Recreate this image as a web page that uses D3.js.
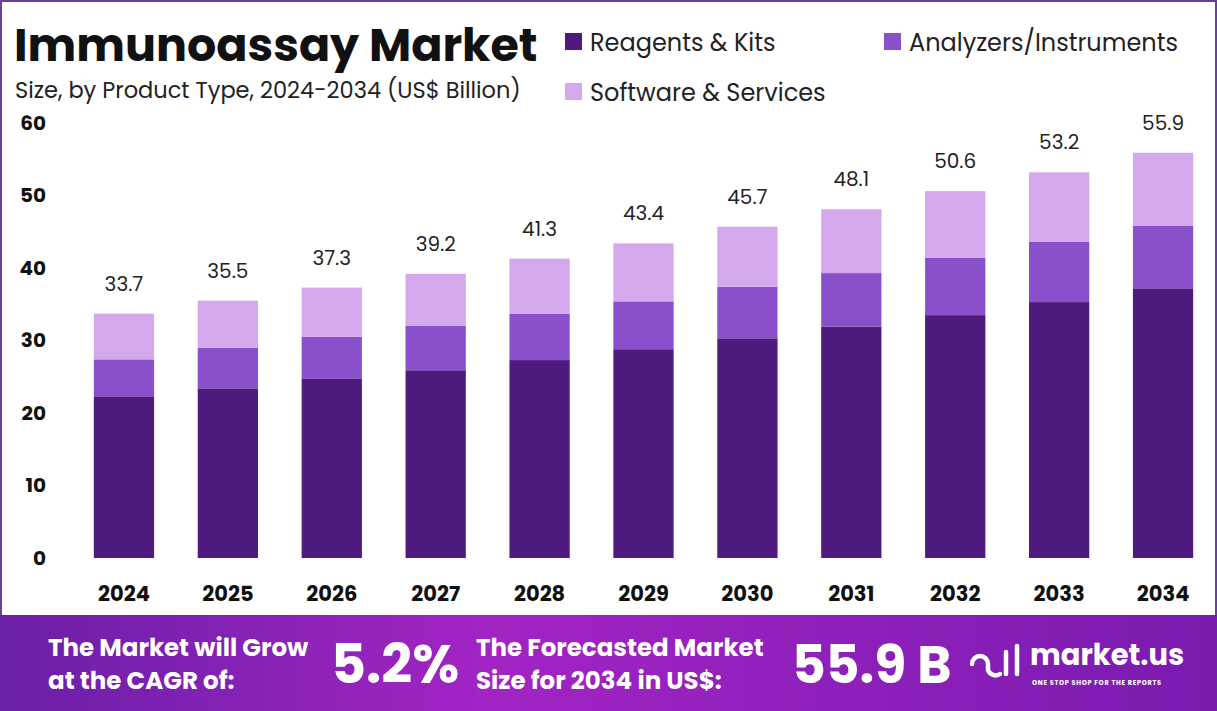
<!DOCTYPE html>
<html>
<head>
<meta charset="utf-8">
<script src="https://cdn.jsdelivr.net/npm/d3@7"></script>
<style>
  body { margin: 0; background: #fff; }
  svg { display: block; font-family: Poppins, "Open Sans", "Noto Sans", sans-serif; }
</style>
</head>
<body>
<div id="chart"></div>
<script>
const width = 1217;
const height = 711;

const data = [
  { year: '2024', reagents: 22.3, analyzers: 5.1, software: 6.3, total: 33.7 },
  { year: '2025', reagents: 23.4, analyzers: 5.6, software: 6.5, total: 35.5 },
  { year: '2026', reagents: 24.7, analyzers: 5.8, software: 6.8, total: 37.3 },
  { year: '2027', reagents: 25.9, analyzers: 6.1, software: 7.2, total: 39.2 },
  { year: '2028', reagents: 27.3, analyzers: 6.4, software: 7.6, total: 41.3 },
  { year: '2029', reagents: 28.8, analyzers: 6.6, software: 8.0, total: 43.4 },
  { year: '2030', reagents: 30.3, analyzers: 7.1, software: 8.3, total: 45.7 },
  { year: '2031', reagents: 31.9, analyzers: 7.4, software: 8.8, total: 48.1 },
  { year: '2032', reagents: 33.5, analyzers: 7.9, software: 9.2, total: 50.6 },
  { year: '2033', reagents: 35.3, analyzers: 8.3, software: 9.6, total: 53.2 },
  { year: '2034', reagents: 37.2, analyzers: 8.6, software: 10.1, total: 55.9 }
];

const keys = ['reagents', 'analyzers', 'software'];
const colors = { reagents: '#4f1a7e', analyzers: '#8a50cc', software: '#d3a9ec' };
const labels = { reagents: 'Reagents & Kits', analyzers: 'Analyzers/Instruments', software: 'Software & Services' };

const svg = d3.select('#chart').append('svg')
  .attr('width', width)
  .attr('height', height);

// frame
svg.append('rect')
  .attr('x', 1).attr('y', 1)
  .attr('width', width - 2).attr('height', height - 2)
  .attr('fill', '#fff').attr('stroke', '#6b3f98').attr('stroke-width', 2);

// banner
const grad = svg.append('defs').append('linearGradient').attr('id', 'bg');
grad.append('stop').attr('offset', '0%').attr('stop-color', '#6a1fa8');
grad.append('stop').attr('offset', '40%').attr('stop-color', '#a224c4');
grad.append('stop').attr('offset', '100%').attr('stop-color', '#7a1bb0');
svg.append('rect').attr('x', 0).attr('y', 615).attr('width', width).attr('height', 96).attr('fill', 'url(#bg)');

// titles
svg.append('text').attr('x', 14).attr('y', 61)
  .attr('font-size', 46).attr('font-weight', 700).attr('fill', '#111')
  .text('Immunoassay Market');
svg.append('text').attr('x', 15).attr('y', 98)
  .attr('font-size', 22.5).attr('fill', '#222')
  .text('Size, by Product Type, 2024-2034 (US$ Billion)');

// legend
const legendPos = [
  { key: 'reagents', x: 565, y: 43 },
  { key: 'analyzers', x: 884, y: 43 },
  { key: 'software', x: 565, y: 93 }
];
legendPos.forEach(function(l) {
  svg.append('rect').attr('x', l.x).attr('y', l.y - 10).attr('width', 17).attr('height', 17).attr('fill', colors[l.key]);
  svg.append('text').attr('x', l.x + 25).attr('y', l.y + 8).attr('font-size', 24).attr('fill', '#222').text(labels[l.key]);
});

// scales
const x = d3.scaleBand().domain(data.map(d => d.year)).range([72, 1215]).paddingInner(0.42).paddingOuter(0.21);
const y = d3.scaleLinear().domain([0, 60]).range([558, 123]);

const stack = d3.stack().keys(keys)(data);

svg.append('g')
  .selectAll('g')
  .data(stack)
  .enter()
  .append('g')
  .attr('fill', d => colors[d.key])
  .selectAll('rect')
  .data(d => d)
  .enter()
  .append('rect')
  .attr('x', d => x(d.data.year))
  .attr('y', d => y(d[1]))
  .attr('width', x.bandwidth())
  .attr('height', d => y(d[0]) - y(d[1]));

// total labels
svg.append('g').selectAll('text')
  .data(data).enter().append('text')
  .attr('x', d => x(d.year) + x.bandwidth() / 2)
  .attr('y', d => y(d.total) - 23)
  .attr('text-anchor', 'middle').attr('font-size', 20).attr('fill', '#222')
  .text(d => d.total.toFixed(1));

// y axis
const yAxis = svg.append('g').attr('transform', 'translate(46,0)')
  .call(d3.axisLeft(y).tickValues([0, 10, 20, 30, 40, 50, 60]).tickSize(0).tickPadding(0));
yAxis.select('.domain').remove();
yAxis.selectAll('text').attr('font-size', 20).attr('font-weight', 700).attr('fill', '#111')
  .attr('font-family', 'Poppins, "Open Sans", sans-serif');

// x axis
const xAxis = svg.append('g').attr('transform', 'translate(0,558)')
  .call(d3.axisBottom(x).tickSize(0).tickPadding(28));
xAxis.select('.domain').remove();
xAxis.selectAll('text').attr('font-size', 21).attr('font-weight', 700).attr('fill', '#111')
  .attr('font-family', 'Poppins, "Open Sans", sans-serif');

// banner text
const bw = svg.append('g').attr('fill', '#fff').attr('font-weight', 700);
bw.append('text').attr('x', 48).attr('y', 656).attr('font-size', 24.5).text('The Market will Grow');
bw.append('text').attr('x', 48).attr('y', 689).attr('font-size', 24.5).text('at the CAGR of:');
bw.append('text').attr('x', 331).attr('y', 683).attr('font-size', 54).text('5.2%');
bw.append('text').attr('x', 476).attr('y', 656).attr('font-size', 24.5).text('The Forecasted Market');
bw.append('text').attr('x', 476).attr('y', 689).attr('font-size', 24.5).text('Size for 2034 in US$:');
bw.append('text').attr('x', 792).attr('y', 683).attr('font-size', 52).text('55.9 B');
bw.append('text').attr('x', 1030).attr('y', 665).attr('font-size', 29).text('market.us');
bw.append('text').attr('x', 1032).attr('y', 685).attr('font-size', 6.5).attr('letter-spacing', 0.7).text('ONE STOP SHOP FOR THE REPORTS');
// logo mark
const logo = svg.append('g').attr('fill', 'none').attr('stroke', '#fff').attr('stroke-width', 4.5).attr('stroke-linecap', 'round');
logo.append('path').attr('d', 'M972,664 a8,8 0 0 1 16,0 v6 a8,8 0 0 0 12,4');
logo.append('line').attr('x1', 1006).attr('y1', 652).attr('x2', 1006).attr('y2', 674);
logo.append('line').attr('x1', 1017).attr('y1', 646).attr('x2', 1017).attr('y2', 674);
</script>
</body>
</html>
